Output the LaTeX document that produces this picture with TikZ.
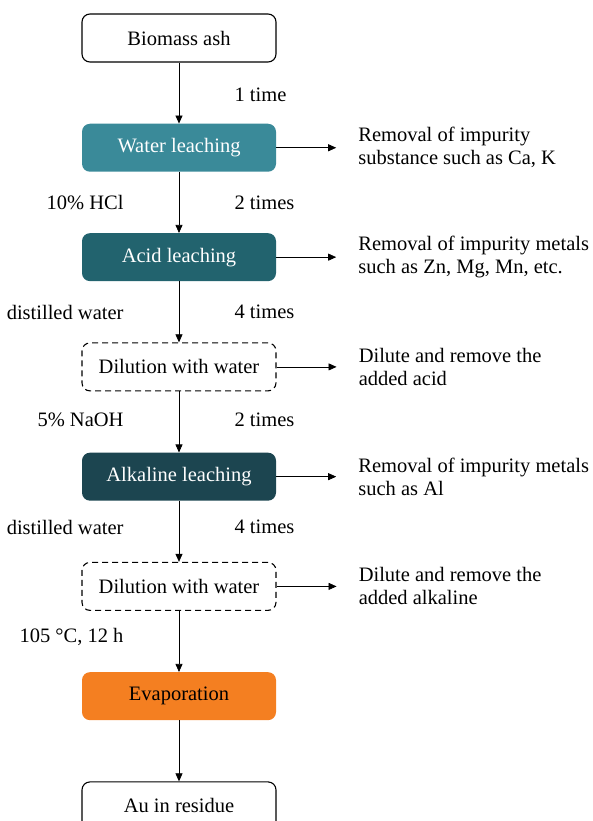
\documentclass[tikz,border=0pt]{standalone}
\usepackage{fontspec}
\setmainfont{Liberation Serif}
\usetikzlibrary{arrows.meta}
\usetikzlibrary{positioning}
\definecolor{waterteal}{HTML}{3A8A99}
\definecolor{acidteal}{HTML}{22636E}
\definecolor{alkteal}{HTML}{1C4550}
\definecolor{evaporange}{HTML}{F47F21}
\begin{document}
\begin{tikzpicture}[x=1pt,y=-1pt,
  font=\fontsize{20.5}{23}\selectfont,
  stagebox/.style={rounded corners=8pt,minimum width=194pt,minimum height=48pt,inner sep=0pt},
  plainbox/.style={stagebox,draw=black,line width=1.1pt},
  dashbox/.style={stagebox,draw=black,line width=1.1pt,dash pattern=on 6pt off 4pt},
  fillbox/.style={stagebox,fill=#1,text=white},
  note/.style={anchor=west,align=left,inner sep=0pt},
  flow/.style={-{Triangle[length=8pt,width=7pt]},line width=0.7pt}]
\useasboundingbox (0,0) rectangle (592,821);

% main column
\node[plainbox] (ash) at (179,38) {Biomass ash};
\node[fillbox=waterteal,below=61pt of ash] (water) {Water leaching};
\node[fillbox=acidteal,below=61pt of water] (acid) {Acid leaching};
\node[dashbox,below=61pt of acid] (dila) {Dilution with water};
\node[fillbox=alkteal,below=61pt of dila] (alk) {Alkaline leaching};
\node[dashbox,below=61pt of alk] (dilb) {Dilution with water};
\node[stagebox,fill=evaporange,below=61pt of dilb] (evap) {Evaporation};
\node[plainbox,below=61pt of evap] (au) {Au in residue};

\draw[flow] (ash) -- (water);
\draw[flow] (water) -- (acid);
\draw[flow] (acid) -- (dila);
\draw[flow] (dila) -- (alk);
\draw[flow] (alk) -- (dilb);
\draw[flow] (dilb) -- (evap);
\draw[flow] (evap) -- (au);

% labels on the column
\node[anchor=west] at (231,95) {1 time};
\node[anchor=west] at (231,203) {2 times};
\node[anchor=west] at (231,312) {4 times};
\node[anchor=west] at (231,420) {2 times};
\node[anchor=west] at (231,527) {4 times};
\node[anchor=east] at (127,203) {10\% HCl};
\node[anchor=east] at (127,312) {distilled water};
\node[anchor=east] at (127,420) {5\% NaOH};
\node[anchor=east] at (127,527) {distilled water};
\node[anchor=east] at (127,637) {105 °C, 12 h};

% side notes
\node[note,right=82pt of water] (nwater) {Removal of impurity\\substance such as Ca, K};
\node[note,right=82pt of acid] (nacid) {Removal of impurity metals\\such as Zn, Mg, Mn, etc.};
\node[note,right=82pt of dila] (ndila) {Dilute and remove the\\added acid};
\node[note,right=82pt of alk] (nalk) {Removal of impurity metals\\such as Al};
\node[note,right=82pt of dilb] (ndilb) {Dilute and remove the\\added alkaline};

\draw[flow] (water.east) -- ([xshift=-22pt]nwater.west);
\draw[flow] (acid.east) -- ([xshift=-22pt]nacid.west);
\draw[flow] (dila.east) -- ([xshift=-22pt]ndila.west);
\draw[flow] (alk.east) -- ([xshift=-22pt]nalk.west);
\draw[flow] (dilb.east) -- ([xshift=-22pt]ndilb.west);
\end{tikzpicture}
\end{document}
